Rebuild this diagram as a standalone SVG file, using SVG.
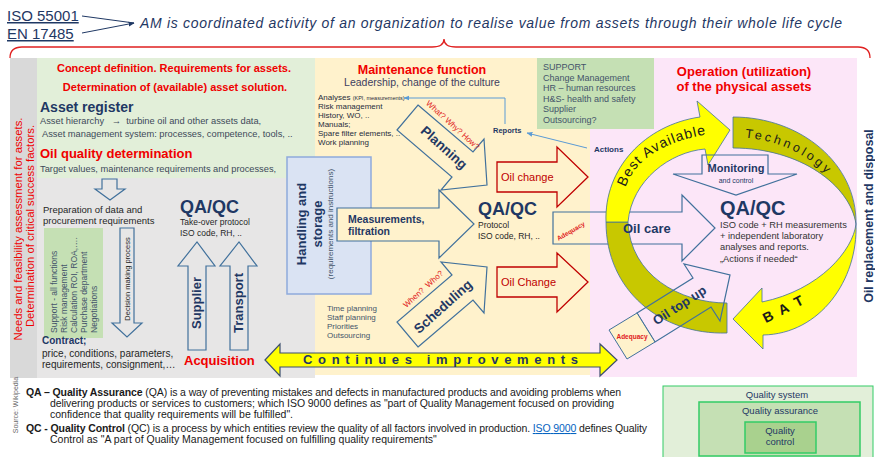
<svg xmlns="http://www.w3.org/2000/svg" width="875" height="457" viewBox="0 0 875 457">
<defs>
<marker id="ahBlue" viewBox="0 0 10 10" refX="9" refY="5" markerWidth="6" markerHeight="6" orient="auto"><path d="M0,1 L10,5 L0,9 z" fill="#5b9bd5"/></marker>
<marker id="ahNavy" viewBox="0 0 10 10" refX="9" refY="5" markerWidth="6" markerHeight="6" orient="auto"><path d="M0,1 L10,5 L0,9 z" fill="#1f3864"/></marker>
<path id="pBest" d="M 622,205 C 624,165 660,140 716,133"/>
<path id="pTech" d="M 731,137 A 118 91 0 0 1 849,228"/>
</defs>
<style>
text{font-family:"Liberation Sans",Arial,Helvetica,sans-serif}
.navy{fill:#1f3864}
.red{fill:#f00000}
.dred{fill:#c00000}
.b{font-weight:bold}
.gray{fill:#404a5a}
.sup{fill:#44546a}
.dk{fill:#262626}
.hollow{fill:none;stroke:#41719c;stroke-width:1.2}
.redarrow{fill:none;stroke:#c00000;stroke-width:1.3}
.ring{stroke:#41719c;stroke-width:0.8}
.yel{fill:#ffff00}
.olv{fill:#c8c800}
.conn{fill:none;stroke:#5b9bd5;stroke-width:1}
</style>

<!-- panels -->
<g id="panels">
<rect x="10" y="58" width="305" height="320" fill="#e7e6e6"/>
<rect x="10" y="58" width="27" height="320" fill="#d9d9d9"/>
<rect x="37" y="58" width="278" height="120" fill="#e2efd9"/>
<rect x="315" y="58" width="275" height="317" fill="#fff2cc"/>
<rect x="590" y="58" width="267" height="319" fill="#fce6f8"/>
</g>

<!-- header -->
<g id="header">
<text x="7" y="21" font-size="15" class="navy" text-decoration="underline">ISO 55001</text>
<text x="7" y="39" font-size="15" class="navy" text-decoration="underline">EN 17485</text>
<text x="140" y="28" font-size="14" font-style="italic" class="navy" textLength="702" lengthAdjust="spacing">AM is coordinated activity of an organization to realise value from assets through their whole life cycle</text>
<path d="M10,58 Q10,47 22,47 L432,47 Q444,47 444,39 Q444,47 456,47 L858,47 Q870,47 870,58" fill="none" stroke="#e02020" stroke-width="1.3"/>
</g>

<!-- left strip -->
<g id="needs">
<text transform="translate(22,229) rotate(-90)" text-anchor="middle" font-size="11.3" class="red">Needs and feasibility assessment for assets.</text>
<text transform="translate(34,226) rotate(-90)" text-anchor="middle" font-size="11.3" class="red">Determination of critical success factors.</text>
</g>

<!-- concept -->
<g id="concept">
<text x="174" y="72" text-anchor="middle" font-size="11" class="red b">Concept definition. Requirements for assets.</text>
<text x="175" y="91" text-anchor="middle" font-size="11" class="red b">Determination of (available) asset solution.</text>
</g>
<g id="asset-register">
<text x="40" y="112" font-size="14" class="navy b">Asset register</text>
<text x="40" y="124" font-size="9.3" class="gray" xml:space="preserve">Asset hierarchy   →  turbine oil and other assets data,</text>
<text x="42" y="137" font-size="9.3" class="gray">Asset management system: processes, competence, tools, ..</text>
</g>
<g id="oil-quality">
<text x="40" y="158" font-size="13" class="red b">Oil quality determination</text>
<text x="40" y="172" font-size="9.3" class="gray">Target values, maintenance requirements and processes,</text>
</g>
<g id="down-arrow">
<polygon class="hollow" points="102,179 117,179 117,189 125,189 110,200 95,189 102,189"/>
</g>

<!-- acquisition -->
<g id="preparation">
<text x="43" y="213" font-size="9.5" class="dk">Preparation of data and</text>
<text x="43" y="224" font-size="9.5" class="dk">procurement requirements</text>
</g>
<g id="support-functions">
<rect x="44" y="228" width="59" height="110" fill="#c5e0b4"/>
<g font-size="8.5" class="sup">
<text transform="translate(57,333) rotate(-90)">Support - all functions</text>
<text transform="translate(67,333) rotate(-90)">Risk management</text>
<text transform="translate(77,333) rotate(-90)">Calculation ROI, ROA,….</text>
<text transform="translate(87,333) rotate(-90)">Purchase department</text>
<text transform="translate(97,333) rotate(-90)">Negotiations</text>
</g>
</g>
<g id="decision">
<polygon class="hollow" points="120,228 134,228 134,323 142,323 127,337 112,323 120,323"/>
<text transform="translate(130,279) rotate(-90)" text-anchor="middle" font-size="7.5" class="dk">Decision making process</text>
</g>
<g id="contract">
<text x="42" y="344" font-size="10" class="navy b">Contract;</text>
<text x="42" y="357" font-size="10" class="dk">price, conditions, parameters,</text>
<text x="42" y="368" font-size="10" class="dk">requirements, consignment,…</text>
</g>
<g id="qaqc-takeover">
<text x="180" y="213" font-size="18" class="navy b">QA/QC</text>
<text x="180" y="225" font-size="8.5" class="dk">Take-over protocol</text>
<text x="180" y="236" font-size="8.5" class="dk">ISO code, RH, ..</text>
</g>
<g id="supplier">
<polygon class="hollow" points="188,350 188,266 178,266 197,242 215,266 206,266 206,350"/>
<text transform="translate(201,303) rotate(-90)" text-anchor="middle" font-size="13" class="navy b">Supplier</text>
</g>
<g id="transport">
<polygon class="hollow" points="230,350 230,266 220,266 239,242 257,266 248,266 248,350"/>
<text transform="translate(243,303) rotate(-90)" text-anchor="middle" font-size="13" class="navy b">Transport</text>
</g>
<g id="acquisition">
<text x="184" y="365" font-size="13" class="red b">Acquisition</text>
</g>

<!-- maintenance -->
<g id="maintenance">
<text x="422" y="74" text-anchor="middle" font-size="12.5" class="red b">Maintenance function</text>
<text x="422" y="86" text-anchor="middle" font-size="10.5" fill="#404060">Leadership, change of the culture</text>
</g>
<g id="analyses" font-size="8" fill="#1f2d3d">
<text x="318" y="100">Analyses <tspan font-size="5.5">(KPI, measurements)</tspan></text>
<text x="318" y="109">Risk management</text>
<text x="318" y="118">History, WO, ..</text>
<text x="318" y="127">Manuals;</text>
<text x="318" y="136">Spare filter elements, ..</text>
<text x="318" y="145">Work planning</text>
</g>
<g id="support">
<rect x="537" y="58" width="117" height="71" fill="#c5e0b4"/>
<g font-size="9" class="sup">
<text x="543" y="70">SUPPORT</text>
<text x="543" y="81">Change Management</text>
<text x="543" y="91">HR – human resources</text>
<text x="543" y="102">H&amp;S- health and safety</text>
<text x="543" y="112">Supplier</text>
<text x="543" y="123">Outsourcing?</text>
</g>
</g>
<g id="handling">
<rect x="287" y="157" width="84" height="137" fill="#dae3f3" stroke="#8faadc" stroke-width="1.5"/>
<text transform="translate(306,224) rotate(-90)" text-anchor="middle" font-size="13" class="navy b">Handling and</text>
<text transform="translate(322,224) rotate(-90)" text-anchor="middle" font-size="13" class="navy b">storage</text>
<text transform="translate(333,224) rotate(-90)" text-anchor="middle" font-size="8" class="sup">(requirements and instructions)</text>
</g>
<g id="measurements">
<polygon points="337,208 439,208 439,190 474,224 439,258 439,241 337,241" fill="#fff2cc" stroke="#41719c" stroke-width="1.2"/>
<text x="348" y="223" font-size="10.5" class="navy b">Measurements,</text>
<text x="348" y="235" font-size="10.5" class="navy b">filtration</text>
</g>
<g id="planning">
<polygon class="hollow" points="418,105 473,152 484,139 487,185 441,190 452,177 397,130"/>
<text transform="translate(441,151) rotate(42)" text-anchor="middle" font-size="13.5" class="navy b">Planning</text>
<text transform="translate(451,127) rotate(42)" text-anchor="middle" font-size="8" fill="#e02020">What? Why? How?</text>
</g>
<g id="scheduling">
<polygon class="hollow" points="418,347 473,300 484,313 487,267 441,262 452,275 397,322"/>
<text transform="translate(446,310) rotate(-42)" text-anchor="middle" font-size="13.5" class="navy b">Scheduling</text>
<text transform="translate(425,291) rotate(-42)" text-anchor="middle" font-size="8" fill="#e02020" xml:space="preserve">When?  Who?</text>
</g>
<g id="scheduling-list" font-size="8" class="sup">
<text x="327" y="311">Time planning</text>
<text x="327" y="320">Staff planning</text>
<text x="327" y="329">Priorities</text>
<text x="327" y="338">Outsourcing</text>
</g>
<g id="qaqc-mid">
<text x="478" y="215" font-size="18" class="navy b">QA/QC</text>
<text x="478" y="228" font-size="8.5" class="dk">Protocol</text>
<text x="478" y="239" font-size="8.5" class="dk">ISO code, RH, ..</text>
</g>
<g id="reports"><text x="493" y="133" font-size="7.5" class="navy b">Reports</text></g>
<g id="oil-change">
<polygon class="redarrow" points="497,162 557,162 557,147 588,177 557,207 557,192 497,192"/>
<text x="501" y="181" font-size="11" class="dred">Oil change</text>
</g>
<g id="oil-change-2">
<polygon class="redarrow" points="497,267 557,267 557,253 588,282 557,312 557,297 497,297"/>
<text x="501" y="286" font-size="11" class="dred">Oil Change</text>
</g>

<!-- operation -->
<g id="operation">
<text x="744" y="76" text-anchor="middle" font-size="13" class="red b">Operation (utilization)</text>
<text x="744" y="91" text-anchor="middle" font-size="13" class="red b">of the physical assets</text>
</g>
<g id="actions"><text x="594" y="152" font-size="8" class="navy b">Actions</text></g>
<g id="oil-care">
<polygon class="hollow" points="553,212 682,212 682,195 715,228 682,261 682,244 553,244"/>
<text transform="translate(572,233) rotate(-30)" text-anchor="middle" font-size="6.5" fill="#e02020" class="b">Adequacy</text>
</g>
<g id="bat-cycle">
<path class="ring olv" d="M 606,222 C 606,290 660,335 727,333 L 727,303 C 680,303 630,275 628,222 Z"/>
<path class="ring yel" d="M 606,222 C 604,168 645,125 700,117 L 697,101 L 730,130 L 708,165 L 705,149 C 670,152 632,180 628,222 Z"/>
<path class="ring olv" d="M 733,117 C 801,117 857,164 856,224 C 850,185 800,148 733,148 Z"/>
<path class="ring yel" d="M 856,224 C 858,280 820,334 763,335 L 763,349 L 733,319 L 762,288 L 762,302 C 820,290 853,250 856,224 Z"/>
<text font-size="14" letter-spacing="1" fill="#1a1a1a"><textPath href="#pBest" startOffset="18">Best Available</textPath></text>
<text font-size="12.5" letter-spacing="3" fill="#1a1a1a"><textPath href="#pTech" startOffset="14">Technology</textPath></text>
<text transform="translate(786,313) rotate(-27)" text-anchor="middle" font-size="14" letter-spacing="2" fill="#1a1a1a" class="b">B A T</text>
</g>
<g id="oil-care-label"><text x="623" y="233" font-size="13" class="navy b">Oil care</text></g>
<g id="monitoring">
<polygon class="hollow" points="702,155 768,155 768,174 797,174 736,195 673,174 702,174"/>
<text x="736" y="172" text-anchor="middle" font-size="11" class="navy b">Monitoring</text>
<text x="736" y="183" text-anchor="middle" font-size="7" class="navy">and control</text>
</g>
<g id="qaqc-right">
<text x="720" y="215" font-size="20" class="navy b">QA/QC</text>
<g font-size="9.3" fill="#333">
<text x="720" y="228">ISO code + RH measurements</text>
<text x="720" y="239">+ independent laboratory</text>
<text x="720" y="250">analyses and reports.</text>
<text x="720" y="262">„Actions if needed“</text>
</g>
</g>
<g id="oil-top-up">
<polygon class="hollow" points="637,313 693,278 684,264 730,275 720,321 711,307 655,342"/>
<text transform="translate(682,309) rotate(-33)" text-anchor="middle" font-size="13" class="navy b">Oil top up</text>
</g>
<g id="adequacy">
<polygon points="609,330 637,313 655,342 627,359" fill="#fff2cc" stroke="#41719c" stroke-width="1"/>
<text x="632" y="339" text-anchor="middle" font-size="6.5" fill="#e02020" class="b">Adequacy</text>
</g>
<g id="disposal">
<text transform="translate(873,216) rotate(-90)" text-anchor="middle" font-size="12.5" class="navy b">Oil replacement and disposal</text>
</g>

<!-- continues improvements -->
<g id="continues">
<polygon points="265,360 280,344 280,353 600,353 600,344 617,360 600,376 600,367 280,367 280,376" fill="#ffff00" stroke="#3d4f6e" stroke-width="1.2"/>
<text x="303" y="364" font-size="13" class="navy b" textLength="275" lengthAdjust="spacing">Continues improvements</text>
</g>

<!-- connectors -->
<g id="connectors">
<path class="conn" d="M505,124 V98 H404" marker-end="url(#ahBlue)"/>
<path class="conn" d="M587,148 L527,133" marker-end="url(#ahBlue)"/>
<path d="M82,16 L134,23" fill="none" stroke="#1f3864" stroke-width="1"/>
<path d="M82,33 L134,23" fill="none" stroke="#1f3864" stroke-width="1" marker-end="url(#ahNavy)"/>
</g>

<!-- definitions -->
<g id="definitions" font-size="10.5" fill="#1a1a1a">
<text transform="translate(18,405) rotate(-90)" text-anchor="middle" font-size="7" fill="#666">Source: Wikipedia</text>
<text x="26" y="396" textLength="595" lengthAdjust="spacing"><tspan font-weight="bold">QA – Quality Assurance</tspan> (QA) is a way of preventing mistakes and defects in manufactured products and avoiding problems when</text>
<text x="50" y="407" textLength="564" lengthAdjust="spacing">delivering products or services to customers; which ISO 9000 defines as "part of Quality Management  focused on providing</text>
<text x="50" y="418">confidence that quality requirements will be fulfilled".</text>
<text x="26" y="432" textLength="621" lengthAdjust="spacing"><tspan font-weight="bold">QC -  Quality Control</tspan> (QC) is a process by which entities review the quality of all factors involved in production. <tspan fill="#0563c1" text-decoration="underline">ISO 9000</tspan> defines Quality</text>
<text x="50" y="443">Control as "A part of Quality Management focused on fulfilling quality requirements"</text>
</g>

<!-- quality system -->
<g id="quality-system">
<rect x="663" y="386" width="210" height="80" fill="#e2efd9" stroke="#33cc66" stroke-width="1"/>
<text x="777" y="398" text-anchor="middle" font-size="9.5" class="navy">Quality system</text>
</g>
<g id="quality-assurance">
<rect x="699" y="402" width="161" height="54" fill="#c5e0b4" stroke="#33cc66" stroke-width="1.5"/>
<text x="780" y="414" text-anchor="middle" font-size="9.5" class="navy">Quality assurance</text>
</g>
<g id="quality-control">
<rect x="745" y="422" width="71" height="31" fill="#a9d18e" stroke="#33cc66" stroke-width="1.5"/>
<text x="780" y="434" text-anchor="middle" font-size="9.5" class="navy">Quality</text>
<text x="780" y="445" text-anchor="middle" font-size="9.5" class="navy">control</text>
</g>
</svg>
